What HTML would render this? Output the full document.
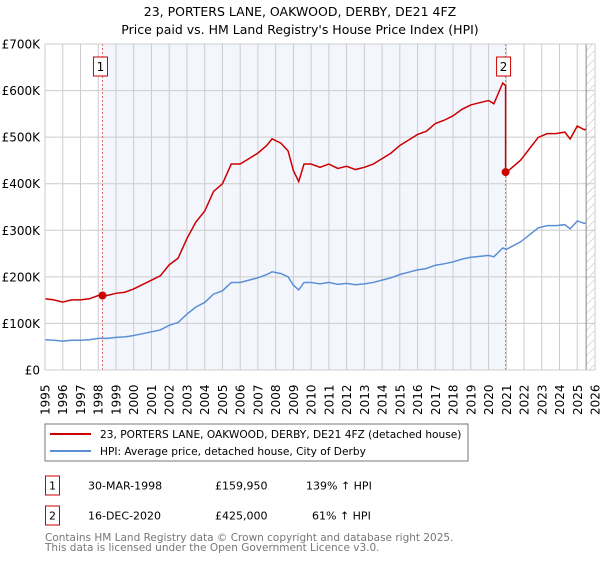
<!DOCTYPE html>
<html><head><meta charset="utf-8"><style>
body{margin:0;background:#fff;font-family:"DejaVu Sans","Liberation Sans",sans-serif;}
svg text{font-family:"DejaVu Sans","Liberation Sans",sans-serif;}
</style></head><body>
<svg id="chart" width="600" height="560" xmlns="http://www.w3.org/2000/svg">
<defs><pattern id="hatch" width="6" height="6" patternUnits="userSpaceOnUse" patternTransform="rotate(45)"><line x1="0" y1="0" x2="0" y2="6" stroke="#bbb" stroke-width="1"/></pattern></defs>
<text x="300" y="16" text-anchor="middle" font-size="12.5">23, PORTERS LANE, OAKWOOD, DERBY, DE21 4FZ</text>
<text x="300" y="34" text-anchor="middle" font-size="12.5">Price paid vs. HM Land Registry's House Price Index (HPI)</text>
<g id="plot"></g>
<rect x="45" y="424" width="423" height="37" fill="#fff" stroke="#777"/>
<line x1="50" y1="434" x2="91" y2="434" stroke="#cc0000" stroke-width="2"/>
<text x="100" y="438" font-size="10.6">23, PORTERS LANE, OAKWOOD, DERBY, DE21 4FZ (detached house)</text>
<line x1="50" y1="451" x2="91" y2="451" stroke="#5b8fd4" stroke-width="2"/>
<text x="100" y="455" font-size="10.6">HPI: Average price, detached house, City of Derby</text>
<g font-size="11">
<rect x="45.5" y="476" width="14" height="19" fill="none" stroke="#c00"/>
<text x="52.5" y="489.5" text-anchor="middle">1</text>
<text x="88" y="489.5">30-MAR-1998</text>
<text x="215" y="489.5">£159,950</text>
<text x="306" y="489.5">139% ↑ HPI</text>
<rect x="45.5" y="506" width="14" height="19" fill="none" stroke="#c00"/>
<text x="52.5" y="519.5" text-anchor="middle">2</text>
<text x="88" y="519.5">16-DEC-2020</text>
<text x="215" y="519.5">£425,000</text>
<text x="312" y="519.5">61% ↑ HPI</text>
</g>
<text x="45" y="541" font-size="10.5" fill="#777">Contains HM Land Registry data © Crown copyright and database right 2025.</text>
<text x="45" y="551" font-size="10.5" fill="#777">This data is licensed under the Open Government Licence v3.0.</text>
</svg>
<script>
const yTicks=[0,100000,200000,300000,400000,500000,600000,700000];
const yTickLabels=["£0","£100K","£200K","£300K","£400K","£500K","£600K","£700K"];
const xYears=[1995,1996,1997,1998,1999,2000,2001,2002,2003,2004,2005,2006,2007,2008,2009,2010,2011,2012,2013,2014,2015,2016,2017,2018,2019,2020,2021,2022,2023,2024,2025,2026];
const hpiDates=[1995.0,1995.5,1996.0,1996.5,1997.0,1997.5,1998.0,1998.5,1999.0,1999.5,2000.0,2000.5,2001.0,2001.5,2002.0,2002.5,2003.0,2003.5,2004.0,2004.5,2005.0,2005.5,2006.0,2006.5,2007.0,2007.5,2007.8,2008.3,2008.7,2009.0,2009.3,2009.6,2010.0,2010.5,2011.0,2011.5,2012.0,2012.5,2013.0,2013.5,2014.0,2014.5,2015.0,2015.5,2016.0,2016.5,2017.0,2017.5,2018.0,2018.5,2019.0,2019.5,2020.0,2020.3,2020.8,2021.0,2021.3,2021.8,2022.3,2022.8,2023.3,2023.8,2024.3,2024.6,2025.0,2025.4,2025.5];
const hpiValues=[65,64,62,64,64,65,68,68,70,71,74,78,82,86,96,102,120,135,145,163,170,188,188,193,198,205,211,207,200,182,172,188,188,185,188,184,186,183,185,188,193,198,205,210,215,218,225,228,232,238,242,244,246,243,262,259,265,275,290,305,310,310,312,303,320,315,316].map(v=>v*1000);
const saleDates=[1998.24,2020.96];
const salePrices=[159950,425000];
const saleLabels=["1","2"];

const X0=45,X1=595,Y0=370,Y1=44;
const xs=t=>X0+(t-1995)/(2026-1995)*(X1-X0);
const ys=v=>Y0-v/700000*(Y0-Y1);
const NS="http://www.w3.org/2000/svg";
const plot=document.getElementById('plot');
function mk(tag,attrs,parent){const e=document.createElementNS(NS,tag);for(const k in attrs)e.setAttribute(k,attrs[k]);(parent||plot).appendChild(e);return e;}
function hpiAt(t){for(let i=0;i<hpiDates.length-1;i++){if(t<=hpiDates[i+1]){const f=(t-hpiDates[i])/(hpiDates[i+1]-hpiDates[i]);return hpiValues[i]+f*(hpiValues[i+1]-hpiValues[i]);}}return hpiValues[hpiValues.length-1];}

let el=mk('rect',{x:X0,y:Y1,width:X1-X0,height:Y0-Y1,fill:'#fff'});


el=mk('rect',{x:xs(saleDates[0]),y:Y1,width:xs(saleDates[1])-xs(saleDates[0]),height:Y0-Y1,fill:'#f3f6fd'});


el=mk('rect',{x:xs(2025.5),y:Y1,width:X1-xs(2025.5),height:Y0-Y1,fill:'url(#hatch)'});


xYears.forEach(y=>{
  const g=mk('line',{x1:xs(y),x2:xs(y),y1:Y1,y2:Y0,stroke:'#ccc','stroke-width':1});
  
  
  const t=mk('text',{x:0,y:0,'font-size':12,transform:`translate(${xs(y)+4.5},${Y0+45}) rotate(-90)`});
  t.textContent=y;
  
  
});
yTicks.forEach((v,i)=>{
  const g=mk('line',{x1:X0,x2:X1,y1:ys(v),y2:ys(v),stroke:'#ccc','stroke-width':1});
  
  
  const t=mk('text',{x:X0-5,y:ys(v)+4.5,'font-size':12,'text-anchor':'end'});
  t.textContent=yTickLabels[i];
  
  
});
el=mk('line',{x1:xs(2025.5),x2:xs(2025.5),y1:Y1,y2:Y0,stroke:'#888'});


saleDates.forEach(d=>{
  const l=mk('line',{x1:xs(d),x2:xs(d),y1:Y1,y2:Y0,stroke:'#e06666','stroke-dasharray':'2,2'});
  
  
});
el=mk('polyline',{points:hpiDates.map((t,i)=>xs(t)+','+ys(hpiValues[i])).join(' '),fill:'none',stroke:'#5b8fd4','stroke-width':1.5});


const pts=[];
const r0=salePrices[0]/hpiAt(saleDates[0]),r1=salePrices[1]/hpiAt(saleDates[1]);
hpiDates.forEach((t,i)=>{if(t<saleDates[1])pts.push([t,hpiValues[i]*r0]);});
pts.push([saleDates[1],hpiAt(saleDates[1])*r0]);
pts.push([saleDates[1],salePrices[1]]);
hpiDates.forEach((t,i)=>{if(t>saleDates[1])pts.push([t,hpiValues[i]*r1]);});
el=mk('polyline',{points:pts.map(p=>xs(p[0])+','+ys(p[1])).join(' '),fill:'none',stroke:'#cc0000','stroke-width':1.5});


saleDates.forEach((d,i)=>{
  const c=mk('circle',{cx:xs(d),cy:ys(salePrices[i]),r:4,fill:'#cc0000'});
  
  
  const b=mk('rect',{x:xs(d)-9,y:57,width:14,height:19,fill:'#fff',stroke:'#c00'});
  
  
  const t=mk('text',{x:xs(d)-2,y:71,'font-size':12,'text-anchor':'middle'});
  t.textContent=saleLabels[i];
  
  
});
el=mk('rect',{x:X0,y:Y1,width:X1-X0,height:Y0-Y1,fill:'none',stroke:'#ccc'});


</script>
</body></html>
